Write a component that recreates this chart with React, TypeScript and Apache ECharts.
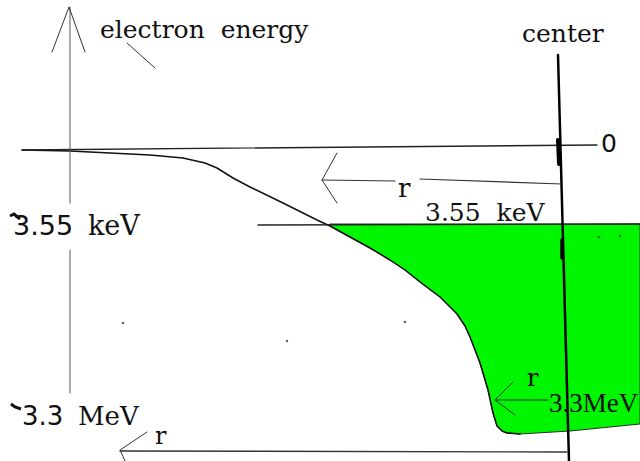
import React, { useEffect, useRef } from "react";
import * as echarts from "echarts";

// Sketch coordinates: x = distance across the sketch (r grows to the left), y = energy depth (down = more negative)
const energyCurve: number[][] = [
  [22, 150], [70, 151], [110, 153], [150, 155], [183, 158], [205, 163], [217, 168],
  [233, 178], [250, 187], [283, 203], [317, 220], [330, 226], [350, 237], [370, 248],
  [390, 260], [405, 270], [420, 282], [440, 297], [457, 314], [465, 326], [470, 337],
  [480, 363], [488, 390], [493, 413], [497, 426], [502, 431], [507, 433], [520, 434],
];
const wellBottom: number[][] = [[570, 431], [640, 424]];
const wellTop: number[][] = [[640, 224], [330, 224]];

const zeroLine: number[][] = [[22, 150], [597, 145]];
const keVLine: number[][] = [[258, 225], [640, 224]];
const energyAxisUpper: number[][] = [[70, 7], [70, 203]];
const energyAxisLower: number[][] = [[70, 250], [70, 393]];
const energyAxisHead: number[][] = [[52, 52], [69, 7], [85, 52]];
const labelPointer: number[][] = [[127, 43], [155, 68]];
const centerLine: number[][] = [[558, 55], [569, 461]];
const centerMarkTop: number[][] = [[558, 140], [559, 164]];
const centerMarkMid: number[][] = [[562, 240], [562, 258]];
const arrowUpperHead: number[][] = [[337, 153], [322, 180], [337, 203]];
const arrowUpperShaft: number[][] = [[322, 180], [395, 181]];
const arrowUpperTail: number[][] = [[420, 179], [562, 184]];
const arrowWellHead: number[][] = [[513, 382], [495, 400], [515, 415]];
const arrowWellShaft: number[][] = [[495, 400], [548, 400]];
const arrowLowerHead: number[][] = [[147, 432], [120, 450], [125, 461]];
const arrowLowerShaft: number[][] = [[120, 451], [567, 452]];
const specks: number[][] = [[123, 323], [287, 341], [405, 322], [599, 237], [620, 236]];

const GREEN = "#00f500";
const INK = "#111";

function stroke(data: number[][], width: number, color = INK, z = 3) {
  return {
    type: "line",
    data,
    symbol: "none",
    silent: true,
    z,
    lineStyle: { color, width, cap: "round", join: "round" },
  };
}

const wellRegion = [
  ...energyCurve.filter((p) => p[0] >= 330),
  ...wellBottom,
  ...wellTop,
];

function txt(text: string, x: number, y: number, size: number, family = "DejaVu Serif") {
  return {
    type: "text",
    x,
    y,
    z: 10,
    style: { text, font: `${size}px "${family}"`, fill: INK, verticalAlign: "middle" },
  };
}

const option: any = {
  animation: false,
  backgroundColor: "#fff",
  grid: { left: 0, right: 0, top: 0, bottom: 0 },
  xAxis: { type: "value", min: 0, max: 640, show: false },
  yAxis: { type: "value", min: 0, max: 461, inverse: true, show: false },
  series: [
    {
      type: "custom",
      silent: true,
      z: 1,
      data: [wellRegion[0]],
      renderItem: (params: any, api: any) => ({
        type: "polygon",
        shape: { points: wellRegion.map((p) => api.coord(p)) },
        style: { fill: GREEN, stroke: "#223322", lineWidth: 1 },
      }),
    },
    stroke(energyCurve, 1.5),
    stroke(zeroLine, 1.3, "#222"),
    stroke(keVLine, 1.3, "#222"),
    stroke(energyAxisUpper, 1, "#555"),
    stroke(energyAxisLower, 1, "#555"),
    stroke(energyAxisHead, 1, "#333"),
    stroke(labelPointer, 1, "#333"),
    stroke(centerLine, 2.5, "#000"),
    stroke(centerMarkTop, 4, "#000"),
    stroke(centerMarkMid, 3.5, "#000"),
    stroke(arrowUpperHead, 1, "#333"),
    stroke(arrowUpperShaft, 1.2, "#333"),
    stroke(arrowUpperTail, 1.2, "#333"),
    stroke(arrowWellHead, 1, "#333"),
    stroke(arrowWellShaft, 1.2, "#333"),
    stroke(arrowLowerHead, 1, "#333"),
    stroke(arrowLowerShaft, 1.4, "#333"),
    {
      type: "scatter",
      data: specks,
      symbolSize: 2.5,
      silent: true,
      itemStyle: { color: "#333" },
      z: 4,
    },
  ],
  graphic: [
    txt("electron  energy", 100, 29, 25),
    txt("center", 522, 33, 25),
    txt("0", 601, 143, 25, "DejaVu Sans"),
    txt("3.55", 13, 225, 27, "DejaVu Sans"),
    txt("keV", 88, 225, 27),
    txt("3.3", 22, 416, 26, "DejaVu Sans"),
    txt("MeV", 78, 416, 26),
    txt("3.55  keV", 425, 212, 25),
    txt("r", 398, 188, 26),
    txt("r", 527, 378, 24),
    txt("r", 155, 436, 24),
    txt("3.3MeV", 549, 403, 27, "Liberation Serif"),
    {
      type: "polyline",
      z: 10,
      shape: { points: [[10, 216], [14, 214], [20, 219]] },
      style: { stroke: INK, lineWidth: 3, fill: null },
    },
    {
      type: "polyline",
      z: 10,
      shape: { points: [[11, 404], [15, 407], [21, 409]] },
      style: { stroke: INK, lineWidth: 3, fill: null },
    },
  ],
};

export default function App() {
  const ref = useRef<HTMLDivElement>(null);
  useEffect(() => {
    const chart = echarts.init(ref.current!, null, { renderer: "svg" });
    chart.setOption(option);
    return () => chart.dispose();
  }, []);
  return (
    <div
      ref={ref}
      style={{ position: "fixed", left: 0, top: 0, width: 640, height: 461, background: "#fff" }}
    />
  );
}
